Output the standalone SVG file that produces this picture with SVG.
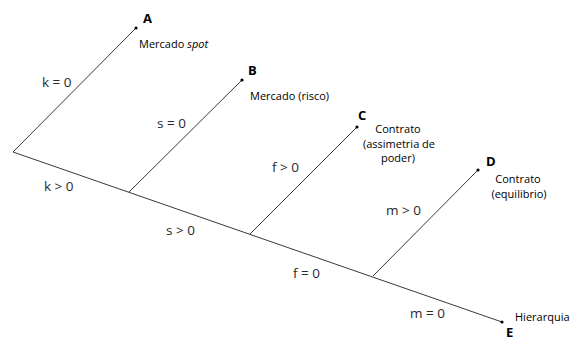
<svg xmlns="http://www.w3.org/2000/svg" width="574" height="340" viewBox="0 0 574 340">
<style>
.ln{stroke:#222;stroke-width:0.9;fill:none}
.dot{fill:#000}
.lbl{font-family:"Open Sans","Liberation Sans",sans-serif;font-size:13.5px;fill:#2a2a2a}
.nt{font-family:"Open Sans","Liberation Sans",sans-serif;font-size:11px;fill:#000}
.L{font-family:"Open Sans","Liberation Sans",sans-serif;font-size:13px;font-weight:bold;fill:#000}
</style>
<rect width="574" height="340" fill="#fff"/>
<g id="connectors">
<line class="ln" x1="13" y1="152" x2="502" y2="322"/>
<line class="ln" x1="13" y1="152" x2="136" y2="28"/>
<line class="ln" x1="129" y1="192" x2="242" y2="80"/>
<line class="ln" x1="250" y1="234" x2="357" y2="127"/>
<line class="ln" x1="373" y1="276" x2="478" y2="170"/>
<text class="lbl" x="42" y="87">k = 0</text>
<text class="lbl" x="157" y="128">s = 0</text>
<text class="lbl" x="272" y="172">f &gt; 0</text>
<text class="lbl" x="386" y="215">m &gt; 0</text>
<text class="lbl" x="44" y="191">k &gt; 0</text>
<text class="lbl" x="166" y="235">s &gt; 0</text>
<text class="lbl" x="293" y="278">f = 0</text>
<text class="lbl" x="410" y="318">m = 0</text>
</g>
<g id="A">
<circle class="dot" cx="136" cy="28" r="1.6"/>
<text class="L" x="143" y="23">A</text>
<text class="nt" x="139" y="48">Mercado <tspan font-style="italic">spot</tspan></text>
</g>
<g id="B">
<circle class="dot" cx="242" cy="80" r="1.6"/>
<text class="L" x="248" y="75">B</text>
<text class="nt" x="250" y="100">Mercado (risco)</text>
</g>
<g id="C">
<circle class="dot" cx="357" cy="127" r="1.6"/>
<text class="L" x="358" y="120">C</text>
<text class="nt" text-anchor="middle" x="398" y="133">Contrato</text>
<text class="nt" text-anchor="middle" x="399" y="148">(assimetria de</text>
<text class="nt" text-anchor="middle" x="398" y="162">poder)</text>
</g>
<g id="D">
<circle class="dot" cx="478" cy="170" r="1.6"/>
<text class="L" x="486" y="166">D</text>
<text class="nt" text-anchor="middle" x="518" y="183">Contrato</text>
<text class="nt" text-anchor="middle" x="519" y="198">(equilibrio)</text>
</g>
<g id="E">
<circle class="dot" cx="502" cy="322" r="1.6"/>
<text class="nt" x="515" y="321">Hierarquia</text>
<text class="L" x="506" y="337" font-size="12">E</text>
</g>
</svg>
